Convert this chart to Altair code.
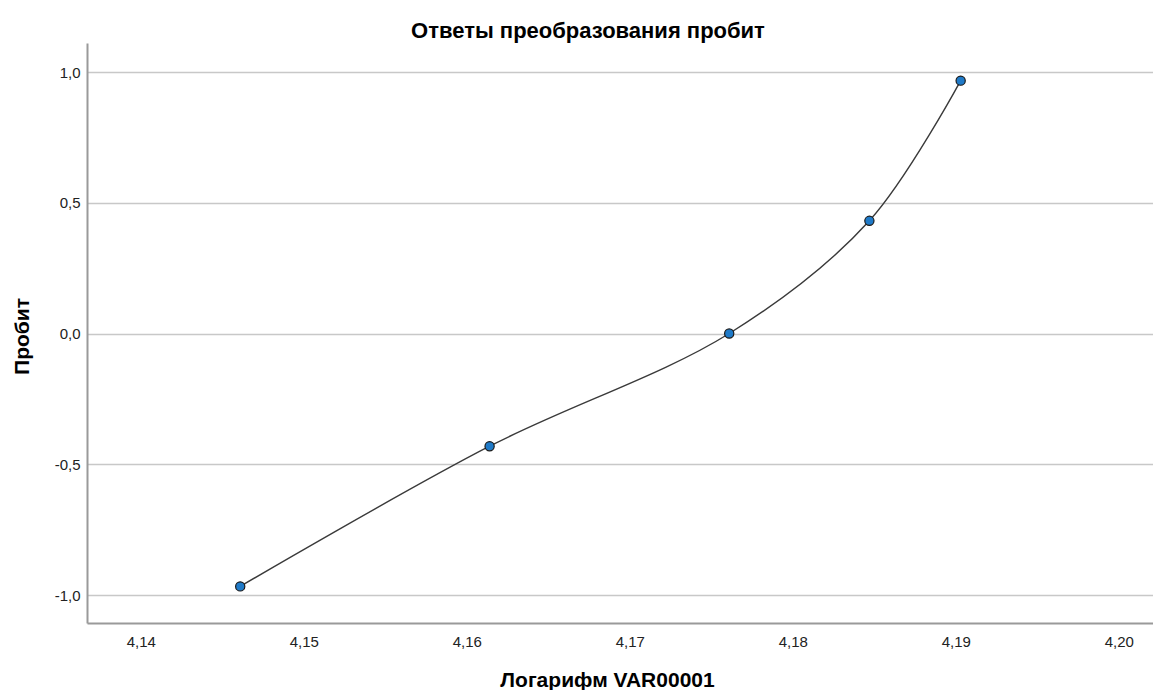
import altair as alt
import pandas as pd

# data
log_x = [4.1461, 4.1614, 4.1761, 4.1847, 4.1903]
probit = [-0.967, -0.431, 0.0, 0.431, 0.967]
x_ticks = [4.14, 4.15, 4.16, 4.17, 4.18, 4.19, 4.20]
y_ticks = [-1.0, -0.5, 0.0, 0.5, 1.0]

title_text = "Ответы преобразования пробит"
x_title = "Логарифм VAR00001"
y_title = "Пробит"

df = pd.DataFrame({"x": log_x, "y": probit})

FONT = "Liberation Sans"

x_enc = alt.X(
    "x:Q",
    scale=alt.Scale(domain=[4.1367, 4.2021], nice=False, zero=False),
    axis=alt.Axis(
        values=x_ticks,
        labelExpr="replace(format(datum.value, '.2f'), '.', ',')",
        grid=False,
        ticks=False,
        tickSize=0,
        labelPadding=11,
        labelFont=FONT,
        labelFontSize=15,
        labelColor="#222222",
        domainColor="#9a9a9a",
        domainWidth=2,
        title=x_title,
        titleFont=FONT,
        titleFontSize=21,
        titleFontWeight="bold",
        titleColor="#000000",
        titleX=520,
        titleY=63,
        titleAlign="center",
        titleBaseline="alphabetic",
        titleAnchor="start",
    ),
)

y_enc = alt.Y(
    "y:Q",
    scale=alt.Scale(domain=[-1.107, 1.111], nice=False, zero=False),
    axis=alt.Axis(
        values=y_ticks,
        labelExpr="replace(replace(format(datum.value, '.1f'), '.', ','), '−', '-')",
        grid=True,
        gridColor="#c8c8c8",
        gridWidth=1.5,
        ticks=False,
        tickSize=0,
        labelPadding=7,
        labelFont=FONT,
        labelFontSize=15,
        labelColor="#222222",
        domainColor="#9a9a9a",
        domainWidth=2,
        title=y_title,
        titleFont=FONT,
        titleFontSize=21,
        titleFontWeight="bold",
        titleColor="#000000",
        titleAngle=270,
        titleX=-59,
        titleY=293,
        titleAlign="center",
        titleBaseline="alphabetic",
        titleAnchor="start",
    ),
)

base = alt.Chart(df).encode(x=x_enc, y=y_enc)

line = base.mark_line(interpolate="catmull-rom", color="#3a3a3a", strokeWidth=1.4)
points = base.mark_point(
    filled=True, shape="circle", size=85, fill="#1f7ac8", stroke="#1a1a1a",
    strokeWidth=1.2, opacity=1
)

chart = (
    alt.layer(line, points)
    .properties(
        width=1066,
        height=580,
        title=alt.TitleParams(
            text=title_text,
            font=FONT,
            fontSize=22,
            fontWeight="bold",
            color="#000000",
            anchor="middle",
            frame="group",
            dx=-32,
            offset=-17,
            baseline="alphabetic",
        ),
        autosize=alt.AutoSizeParams(type="none"),
        padding={"left": 79, "top": 35, "right": 0, "bottom": 67},
        background="white",
    )
    .configure_view(stroke=None)
)

chart.save("out.html", embed_options={"renderer": "svg", "actions": False})
